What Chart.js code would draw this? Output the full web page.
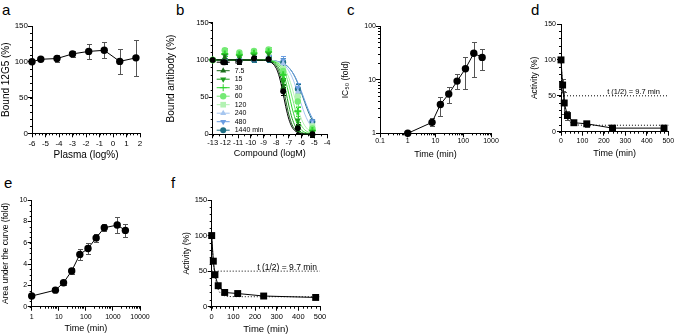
<!DOCTYPE html>
<html>
<head>
<meta charset="utf-8">
<script src="https://cdn.jsdelivr.net/npm/chart.js@4.4.0/dist/chart.umd.min.js"></script>
<style>
  body { margin: 0; background: #fff; width: 676px; height: 335px; position: relative; overflow: hidden; font-family: "Liberation Sans", Arial, sans-serif; }
  canvas { position: absolute; }
  .lbl { position: absolute; font-size: 15px; line-height: 15px; color: #000; }
</style>
</head>
<body>
<div class="lbl" style="left:2px;top:2px">a</div>
<div class="lbl" style="left:176px;top:2px">b</div>
<div class="lbl" style="left:347px;top:2px">c</div>
<div class="lbl" style="left:531px;top:2px">d</div>
<div class="lbl" style="left:4px;top:175px">e</div>
<div class="lbl" style="left:171px;top:175px">f</div>
<canvas id="chartA"></canvas>
<canvas id="chartB"></canvas>
<canvas id="chartC"></canvas>
<canvas id="chartD"></canvas>
<canvas id="chartE"></canvas>
<canvas id="chartF"></canvas>
<script>
// a: plasma titration
const aPlasma = [-6, -5.35, -4.15, -3, -1.8, -0.65, 0.5, 1.7];
const aBound = [100, 103.5, 104.5, 111, 114.5, 116, 100.5, 105.5];
const aErr = [0, 1.5, 4.5, 4, 10.5, 11, 17.5, 25];
const aXTicks = [-6, -5, -4, -3, -2, -1, 0, 1, 2];
const aYTicks = [0, 50, 100, 150];

// b: competition curves per incubation time
const bLogM = [-13, -12.05, -10.9, -9.75, -8.6, -7.45, -6.3, -5.15];
const bErr = [0, 3, 3, 3, 4, 5, 6, 3];
const bTimes = ['0', '7.5', '15', '30', '60', '120', '240', '480', '1440 min'];
const bound0 = [100, 97, 98, 102, 101, 58, 8, 0];
const bound7_5 = [100, 103, 100, 103, 103, 63, 11, 1];
const bound15 = [100, 106, 104, 106, 108, 71, 19, 3];
const bound30 = [100, 108, 107, 109, 111, 80, 31, 5];
const bound60 = [100, 113, 110, 112, 114, 85, 44, 8];
const bound120 = [100, 111, 108, 111, 112, 88, 51, 11];
const bound240 = [100, 103, 102, 104, 106, 95, 57, 14];
const bound480 = [100, 100, 100, 101, 103, 100, 63, 18];
const bound1440 = [100, 99, 99, 100, 101, 97, 61, 17];
const bFitLogM = [-13, -9, -8.5, -8, -7.75, -7.5, -7.25, -7, -6.75, -6.5, -6.25, -6, -5.75, -5.5, -5.25, -5];
const fit0 = [100, 99.6, 97.8, 88.8, 77, 58.5, 37.3, 20.1, 9.6, 4.3, 1.9, 0.8, 0.4, 0.2, 0.1, 0];
const fit7_5 = [100, 99.7, 98.4, 91.8, 82.6, 66.6, 45.7, 26.2, 13, 5.9, 2.6, 1.1, 0.5, 0.2, 0.1, 0];
const fit15 = [100, 99.7, 98.7, 93.9, 87.4, 75.6, 58, 38.1, 21.6, 11, 5.2, 2.4, 1.1, 0.5, 0.2, 0.1];
const fit30 = [100, 99.8, 99, 95.9, 91.6, 83.8, 71.1, 53.7, 35.5, 20.6, 11, 5.5, 2.7, 1.3, 0.6, 0.3];
const fit60 = [100, 99.8, 99.2, 96.9, 94.1, 88.8, 79.9, 66.6, 50, 33.4, 20.1, 11.2, 5.9, 3.1, 1.6, 0.8];
const fit120 = [100, 99.8, 99.3, 97.5, 95.4, 91.7, 85.5, 75.8, 62.4, 46.8, 31.9, 19.9, 11.6, 6.5, 3.6, 1.9];
const fit240 = [100, 99.8, 99.4, 98.1, 96.7, 94.5, 90.9, 85.2, 76.9, 65.8, 52.7, 39.2, 27.2, 17.8, 11.1, 6.8];
const fit480 = [100, 99.7, 99.2, 98.1, 97.1, 95.4, 92.9, 89.3, 84, 76.8, 67.6, 56.9, 45.4, 34.4, 24.9, 17.3];
const fit1440 = [100, 99.8, 99.4, 98.4, 97.4, 95.8, 93.4, 89.6, 84.1, 76.4, 66.5, 54.9, 42.7, 31.4, 21.9, 14.7];
const bXTicks = [-13, -12, -11, -10, -9, -8, -7, -6, -5, -4];
const bYTicks = [0, 50, 100, 150];

// c: IC50 shift
const cTime = [1, 7.5, 15, 30, 60, 120, 240, 480];
const cIC50 = [1, 1.6, 3.45, 5.4, 9.4, 16, 31, 26];
const cLow = [1, 1.35, 2.1, 3.6, 6.6, 6.6, 11, 15];
const cHigh = [1, 1.9, 4.7, 7.2, 12.7, 26, 50, 37];
const cXTicks = [0.1, 1, 10, 100, 1000];
const cYTicks = [1, 10, 100];

// d: activity decay
const dTime = [0, 7.5, 15, 30, 60, 120, 240, 480];
const dActivity = [100, 65, 40, 22.5, 12.5, 11, 5, 5];
const dErr = [0, 9, 15, 6, 3, 4, 1.5, 1.5];
const dFitTime = [0, 5, 10, 15, 20, 30, 40, 60, 80, 120, 240, 500];
const dFit = [100, 72.7, 53.6, 40.2, 30.8, 19.6, 14.2, 10.2, 9.3, 9, 9, 9];

// e: area under the curve
const eTime = [1, 7.5, 15, 30, 60, 120, 240, 480, 1440, 2880];
const eAUC = [1, 1.55, 2.25, 3.35, 4.9, 5.45, 6.45, 7.4, 7.65, 7.15];
const eErr = [0, 0.08, 0.2, 0.25, 0.55, 0.5, 0.35, 0.35, 0.75, 0.6];
const eXTicks = [1, 10, 100, 1000, 10000];
const eYTicks = [0, 2, 4, 6, 8, 10];

// f: activity decay (second set)
const fTime = [0, 7.5, 15, 30, 60, 120, 240, 480];
const fActivity = [100, 64, 45, 29.5, 20, 18.5, 15, 13];
const fErr = [0, 3, 3, 1.5, 1, 1, 1, 1];
const fFitTime = [0, 5, 10, 15, 20, 30, 40, 60, 80, 120, 240, 500];
const fFit = [100, 74.2, 56.2, 43.5, 34.7, 24.3, 19.1, 15.3, 14.4, 14.1, 14, 14];

const halfTime = [0, 500];
const halfLevel = [50, 50];
const timeTicks = [0, 100, 200, 300, 400, 500];
const actTicks = [0, 50, 100, 150];
const halfLabel = 't (1/2) = 9.7 min';

const FONT = '"Liberation Sans", Arial, sans-serif';
Chart.defaults.font.family = FONT;
Chart.defaults.color = '#000';

const pts = (xs, ys) => xs.map((x, i) => ({ x, y: ys[i] }));
function steps(a, b, s) { const out = []; for (let v = a; v <= b + 1e-9; v += s) out.push(+v.toFixed(6)); return out; }
function logMinor(e0, e1) { const out = []; for (let e = e0; e < e1; e++) for (let k = 2; k <= 9; k++) out.push(k * Math.pow(10, e)); return out; }

function axisCfg(o, horizontal) {
  return {
    type: o.log ? 'logarithmic' : 'linear',
    position: horizontal ? 'bottom' : 'left',
    min: o.min, max: o.max,
    border: { display: true, color: '#000', width: 1 },
    grid: { drawOnChartArea: false, drawTicks: true, tickLength: 4, color: '#000', tickColor: '#000', tickWidth: 1 },
    ticks: { font: { size: o.tick || 7 }, color: '#000', padding: o.tickPad || 0, autoSkip: false, maxRotation: 0, callback: v => String(v) },
    title: { display: true, text: o.title, color: '#000', font: { size: o.size || 8.5 },
      padding: horizontal ? { top: 0, bottom: o.titlePad || 0 } : { top: o.titlePad || 0, bottom: 0 } },
    afterBuildTicks: s => { s.ticks = o.major.map(v => ({ value: v })); },
    afterFit: s => { if (horizontal) s.height = o.fit; else s.width = o.fit; }
  };
}

const errorBars = {
  id: 'errorBars',
  beforeDatasetsDraw(chart) {
    const ctx = chart.ctx, xs = chart.scales.x, ys = chart.scales.y;
    chart.data.datasets.forEach(ds => {
      if (!ds.errLo) return;
      ctx.save();
      ctx.strokeStyle = ds.errColor || '#555';
      ctx.lineWidth = 1;
      ctx.beginPath();
      ds.data.forEach((p, j) => {
        const lo = ds.errLo[j], hi = ds.errHi[j];
        if (hi - lo <= 0) return;
        const x = Math.round(xs.getPixelForValue(p.x)) + 0.5;
        const y1 = Math.round(ys.getPixelForValue(lo)) + 0.5, y2 = Math.round(ys.getPixelForValue(hi)) + 0.5;
        ctx.moveTo(x, y1); ctx.lineTo(x, y2);
        ctx.moveTo(x - 2.5, y1); ctx.lineTo(x + 2.5, y1);
        ctx.moveTo(x - 2.5, y2); ctx.lineTo(x + 2.5, y2);
      });
      ctx.stroke();
      ctx.restore();
    });
  }
};

function minorTicks(mx, my) {
  return {
    id: 'minorTicks',
    afterDraw(chart) {
      const ctx = chart.ctx, xs = chart.scales.x, ys = chart.scales.y;
      ctx.save();
      ctx.strokeStyle = '#000';
      ctx.lineWidth = 1;
      ctx.beginPath();
      (mx || []).forEach(v => {
        const p = Math.round(xs.getPixelForValue(v)) + 0.5;
        ctx.moveTo(p, xs.top); ctx.lineTo(p, xs.top + 2);
      });
      (my || []).forEach(v => {
        const p = Math.round(ys.getPixelForValue(v)) + 0.5;
        ctx.moveTo(ys.right - 2, p); ctx.lineTo(ys.right, p);
      });
      ctx.stroke();
      ctx.restore();
    }
  };
}

function halfLifeText(xVal, yVal, size) {
  return {
    id: 'halfLifeText',
    afterDatasetsDraw(chart) {
      const ctx = chart.ctx;
      ctx.save();
      ctx.fillStyle = '#000';
      ctx.font = size + 'px ' + FONT;
      ctx.textAlign = 'right';
      ctx.textBaseline = 'alphabetic';
      ctx.fillText(halfLabel, chart.scales.x.getPixelForValue(xVal), chart.scales.y.getPixelForValue(yVal) - 1.5);
      ctx.restore();
    }
  };
}

function drawMarker(ctx, style, rot, r, bw, x, y) {
  if (Chart.helpers && Chart.helpers.drawPoint) {
    Chart.helpers.drawPoint(ctx, { pointStyle: style, rotation: rot, radius: r, borderWidth: bw }, x, y);
  } else {
    ctx.beginPath(); ctx.arc(x, y, r, 0, Math.PI * 2); ctx.fill();
  }
}

function makePanel(id, box, area, xo, yo, datasets, extra) {
  const cv = document.getElementById(id);
  cv.width = box[2]; cv.height = box[3];
  cv.style.left = box[0] + 'px'; cv.style.top = box[1] + 'px';
  xo.fit = box[1] + box[3] - area[3];
  yo.fit = area[0] - box[0];
  return new Chart(cv, {
    type: 'scatter',
    data: { datasets },
    options: {
      responsive: false, animation: false, events: [],
      layout: { padding: { left: 0, top: area[1] - box[1], right: box[0] + box[2] - area[2], bottom: 0 } },
      plugins: { legend: { display: false }, tooltip: { enabled: false } },
      scales: { x: axisCfg(xo, true), y: axisCfg(yo, false) }
    },
    plugins: [errorBars].concat(extra || [])
  });
}

function dataLine(xs, ys, lo, hi, style, r) {
  return {
    data: pts(xs, ys), errLo: lo, errHi: hi, showLine: true, clip: false,
    borderColor: '#000', borderWidth: 1, pointStyle: style || 'circle', pointRadius: r || 3.7,
    pointBackgroundColor: '#000', pointBorderColor: '#000', pointBorderWidth: 0
  };
}
function dottedLine(xs, ys) {
  return {
    data: pts(xs, ys), showLine: true, clip: false, pointRadius: 0, borderColor: '#000', borderWidth: 1,
    borderDash: [1, 2], cubicInterpolationMode: 'monotone'
  };
}

// ---- a
makePanel('chartA', [0, 15, 165, 147], [32, 26, 140, 133.3],
  { min: -6, max: 2, major: aXTicks, title: 'Plasma (log%)', size: 10, tick: 8, tickPad: 1.5, titlePad: 1 },
  { min: 0, max: 150, major: aYTicks, title: 'Bound 12G5 (%)', size: 10, tick: 8, tickPad: 0 },
  [dataLine(aPlasma, aBound, aBound.map((v, i) => v - aErr[i]), aBound.map((v, i) => v + aErr[i]))],
  [minorTicks(steps(-6, 2, 0.25), steps(0, 150, 10))]);

// ---- b
const bColors = ['#000000', '#1b6e1b', '#1f9f1f', '#2fd62f', '#74ea74', '#b2f2b2', '#a6c6ef', '#6a9de2', '#1d6f84'];
const bShapes = ['circle', 'triangle', 'triangle', 'cross', 'circle', 'rect', 'triangle', 'triangle', 'circle'];
const bRot = [0, 0, 180, 0, 0, 0, 0, 180, 0];
const bRadius = [3, 3.5, 3.5, 3.5, 3.2, 4, 3.5, 3.5, 3];
const bPoints = [bound0, bound7_5, bound15, bound30, bound60, bound120, bound240, bound480, bound1440];
const bFits = [fit0, fit7_5, fit15, fit30, fit60, fit120, fit240, fit480, fit1440];
const bDatasets = [];
bPoints.forEach((vals, i) => bDatasets.push({
  data: pts(bLogM, vals), clip: false, showLine: false,
  errLo: vals.map((v, j) => v - bErr[j]), errHi: vals.map((v, j) => v + bErr[j]), errColor: bColors[i],
  pointStyle: bShapes[i], pointRotation: bRot[i], pointRadius: bRadius[i],
  pointBackgroundColor: bColors[i], pointBorderColor: bColors[i], pointBorderWidth: bShapes[i] === 'cross' ? 2 : 0
}));
bFits.forEach((vals, i) => bDatasets.push({
  data: pts(bFitLogM, vals), showLine: true, pointRadius: 0, borderColor: bColors[i], borderWidth: 1,
  cubicInterpolationMode: 'monotone', clip: false
}));
const bLegend = {
  id: 'bLegend',
  afterDatasetsDraw(chart) {
    const { ctx, chartArea } = chart;
    ctx.save();
    bTimes.forEach((label, i) => {
      const y = chartArea.top + 39 + i * 8.5;
      const x0 = chartArea.left + 4;
      ctx.strokeStyle = bColors[i];
      ctx.lineWidth = 1;
      ctx.beginPath(); ctx.moveTo(x0, y + 0.5); ctx.lineTo(x0 + 13, y + 0.5); ctx.stroke();
      ctx.fillStyle = bColors[i];
      drawMarker(ctx, bShapes[i], bRot[i], bRadius[i], bShapes[i] === 'cross' ? 2 : 0, x0 + 6.5, y + 0.5);
      ctx.fillStyle = '#000';
      ctx.font = '7px ' + FONT;
      ctx.textAlign = 'left';
      ctx.textBaseline = 'middle';
      ctx.fillText(label, x0 + 18, y + 0.5);
    });
    ctx.restore();
  }
};
makePanel('chartB', [165, 10, 175, 152], [212.7, 22.7, 327, 134.3],
  { min: -13, max: -4, major: bXTicks, title: 'Compound (logM)', size: 9, tick: 7.5, tickPad: 0, titlePad: 3 },
  { min: 0, max: 150, major: bYTicks, title: 'Bound antibody (%)', size: 10, tick: 7.5, tickPad: 0 },
  bDatasets, [minorTicks(steps(-13, -4, 0.5), steps(0, 150, 10)), bLegend]);

// ---- c
makePanel('chartC', [340, 15, 165, 147], [380, 26, 491, 133.3],
  { log: true, min: 0.1, max: 1000, major: cXTicks, title: 'Time (min)', size: 9, tick: 7, tickPad: 0, titlePad: 1.6 },
  { log: true, min: 1, max: 100, major: cYTicks, title: 'IC\u2085\u2080 (fold)', size: 8.5, tick: 7, tickPad: 0, titlePad: 0.9 },
  [dataLine(cTime, cIC50, cLow, cHigh)],
  [minorTicks(logMinor(-1, 3), logMinor(0, 2))]);

// ---- d
makePanel('chartD', [505, 10, 171, 152], [561, 24, 668.3, 131.7],
  { min: 0, max: 500, major: timeTicks, title: 'Time (min)', size: 9, tick: 7, tickPad: 1, titlePad: 2.6 },
  { min: 0, max: 150, major: actTicks, title: 'Activity (%)', size: 8.5, tick: 7, tickPad: 1, titlePad: 24.9 },
  [dataLine(dTime, dActivity, dActivity.map((v, i) => v - dErr[i]), dActivity.map((v, i) => v + dErr[i]), 'rect', 4.9),
   dottedLine(dFitTime, dFit), dottedLine(halfTime, halfLevel)],
  [minorTicks(steps(0, 500, 20), steps(0, 150, 10)), halfLifeText(461, 50, 7.5)]);

// ---- e
makePanel('chartE', [0, 190, 165, 145], [31.7, 200, 140, 306.7],
  { log: true, min: 1, max: 10000, major: eXTicks, title: 'Time (min)', size: 9, tick: 7, tickPad: 2, titlePad: 1.3 },
  { min: 0, max: 10, major: eYTicks, title: 'Area under the curve (fold)', size: 8.5, tick: 7, tickPad: 0.5, titlePad: 0.9 },
  [dataLine(eTime, eAUC, eAUC.map((v, i) => v - eErr[i]), eAUC.map((v, i) => v + eErr[i]))],
  [minorTicks(logMinor(0, 4), steps(0, 10, 0.5))]);

// ---- f
makePanel('chartF', [165, 190, 200, 145], [211.7, 200, 320, 306.7],
  { min: 0, max: 500, major: timeTicks, title: 'Time (min)', size: 9.5, tick: 7.5, tickPad: 2, titlePad: 0 },
  { min: 0, max: 150, major: actTicks, title: 'Activity (%)', size: 8.5, tick: 7.5, tickPad: 0.5, titlePad: 16.6 },
  [dataLine(fTime, fActivity, fActivity.map((v, i) => v - fErr[i]), fActivity.map((v, i) => v + fErr[i]), 'rect', 4.9),
   dottedLine(fFitTime, fFit), dottedLine(halfTime, halfLevel)],
  [minorTicks(steps(0, 500, 20), steps(0, 150, 10)), halfLifeText(486, 50, 8.5)]);
</script>
</body>
</html>
